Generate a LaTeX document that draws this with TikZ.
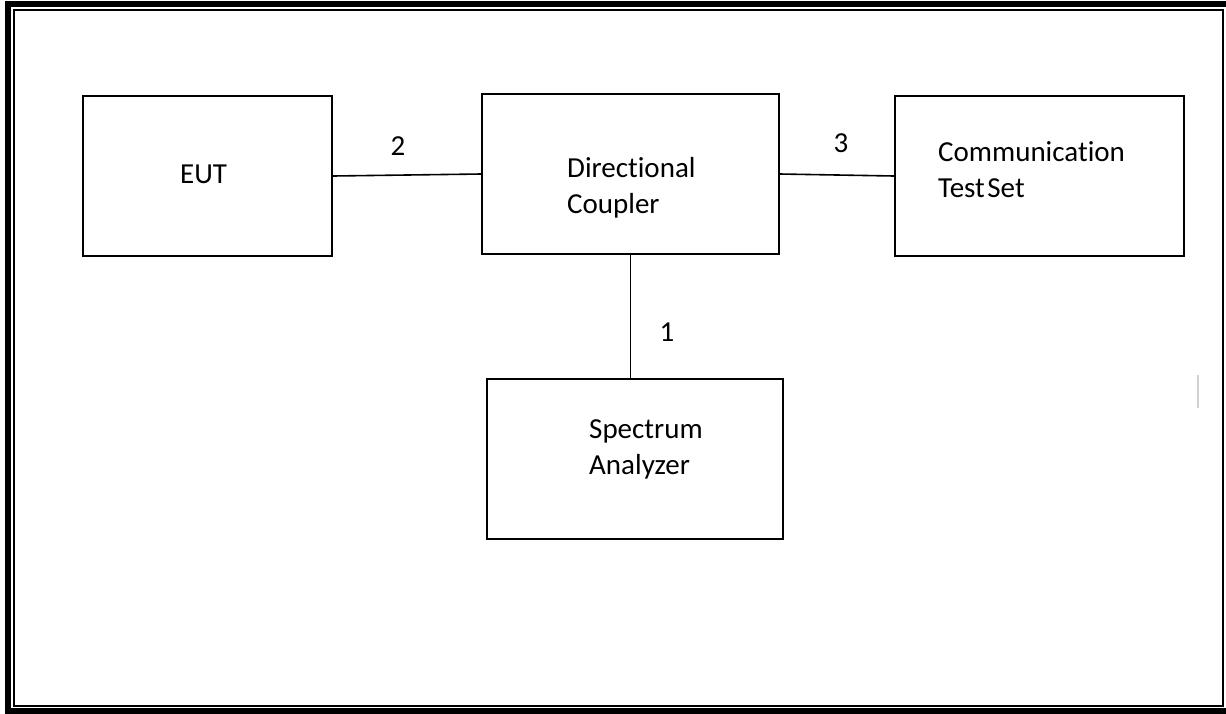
\documentclass[tikz,border=0pt]{standalone}
\usepackage{fontspec}
\setmainfont{Carlito}[Ligatures=NoCommon]
\begin{document}
\begin{tikzpicture}[x=1pt,y=-1pt,
  box/.style={draw,line width=1.6pt,inner sep=0pt,minimum height=160pt},
  wire/.style={line width=1.6pt},
  txt/.style={inner sep=0pt,align=left,font=\fontsize{29}{36}\selectfont},
  lbl/.style={inner sep=0pt,font=\fontsize{29}{36}\selectfont}]
\useasboundingbox (0,0) rectangle (1226,713);
\clip (0,0) rectangle (1226,713);
% frame
\draw[line width=6pt] (8,4) rectangle (1240,711);
\draw[line width=2pt] (14,10) rectangle (1223,706);
% boxes
\node[box,minimum width=249pt] (eut) at (207.5,176) {};
\node[box,minimum width=297pt] (dc) at (630.5,174) {};
\node[box,minimum width=289pt] (cts) at (1039.5,176) {};
\node[box,minimum width=296pt] (sa) at (635,459) {};
% texts (base anchor = baseline of the last line)
\node[txt,anchor=base west] (eutt) at (180,183) {EUT};
\node[txt,anchor=base west] (dct) at (567,213) {Directional\\Coupler};
\node[txt,anchor=base west] (ctst) at (938,197) {Communication\\Test\hspace{2.5pt}Set};
\node[txt,anchor=base west] (sat) at (589,474) {Spectrum\\Analyzer};
% connectors
\draw[wire] (eut.east) -- (dc.west);
\draw[wire] (dc.east) -- (cts.west);
\draw[wire] (dc.south) -- (dc.south |- sa.north);
% labels
\node[lbl,anchor=base] (l2) at (398,155) {2};
\node[lbl,anchor=base] (l3) at (841,152) {3};
\node[lbl,anchor=base] (l1) at (667,341) {1};
% small mark
\coordinate (m1) at (1198,375);
\coordinate (m2) at (1198,408);
\draw[gray!35,line width=1.5pt] (m1) -- (m2);
\end{tikzpicture}
\end{document}
